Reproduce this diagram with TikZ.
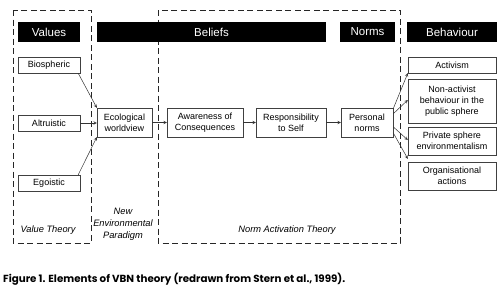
\documentclass[tikz,border=0pt]{standalone}
\usepackage{fontspec}
\setmainfont{Liberation Sans}
\newfontfamily\capfont{Poppins}
\usetikzlibrary{calc}

\begin{document}
\begin{tikzpicture}[x=1pt,y=-1pt,
  box/.style={draw=black!75,fill=white,align=center,inner sep=0pt,
    font=\fontsize{9}{11}\selectfont},
  bar/.style={fill=black,text=white,inner sep=0pt,minimum height=20pt,
    font=\fontsize{11.5}{13}\selectfont},
  frame/.style={dash pattern=on 6pt off 3.5pt,line width=0.9pt,black!85},
  note/.style={align=center,font=\fontsize{9.3}{12}\selectfont\itshape},
  arr/.style={-stealth,black!80,line width=0.5pt}]
\useasboundingbox (0,0) rectangle (504,290);
% dashed frames
\draw[frame] (13,10) rectangle (91,243);
\draw[frame] (158,10) rectangle (400,243);
% headings
\node[bar,minimum width=62pt] (values) at (49,32) {Values};
\node[bar,minimum width=229pt] (beliefs) at (211.5,32) {Beliefs};
\node[bar,minimum width=55pt] (norms) at (367.5,32) {Norms};
\node[bar,minimum width=90pt] (behaviour) at (452,32) {Behaviour};
% values
\node[box,minimum width=62pt,minimum height=16pt] (bio) at (49,65) {Biospheric};
\node[box,minimum width=62pt,minimum height=16pt] (alt) at (49,123) {Altruistic};
\node[box,minimum width=62pt,minimum height=16pt] (ego) at (49,183) {Egoistic};
% chain
\node[box,minimum width=55pt,minimum height=29pt] (eco) at (124.5,122.5) {Ecological\\worldview};
\node[box,minimum width=76pt,minimum height=29pt] (aware) at (205,122.5) {Awareness of\\Consequences};
\node[box,minimum width=70pt,minimum height=29pt] (resp) at (291,122.5) {Responsibility\\to Self};
\node[box,minimum width=52pt,minimum height=29pt] (pn) at (367,122.5) {Personal\\norms};
% behaviour
\node[box,minimum width=88pt,minimum height=16pt] (act) at (452,65) {Activism};
\node[box,minimum width=88pt,minimum height=44pt] (nonact) at (452,101) {Non-activist\\behaviour in the\\public sphere};
\node[box,minimum width=88pt,minimum height=28pt] (priv) at (452,141) {Private sphere\\environmentalism};
\node[box,minimum width=88pt,minimum height=28pt] (org) at (452,176) {Organisational\\actions};
% theory labels
\node[note] (vt) at (48,230) {Value Theory};
\node[note] (nep) at (123,224) {New\\Environmental\\Paradigm};
\node[note] (nat) at (287,230) {Norm Activation Theory};
% arrows
\draw[arr] ($(bio.south east)+(-2,0)$) -- (eco.north west);
\draw[arr] (alt.east) -- (alt.east -| eco.west);
\draw[arr] ($(ego.north east)+(-2,0)$) -- (eco.south west);
\draw[arr] (eco.east) -- (aware.west);
\draw[arr] (aware.east) -- (resp.west);
\draw[arr] (resp.east) -- (pn.west);
\draw[arr] ($(pn.north east)+(0,1)$) -- (act.south west);
\draw[arr] ($(pn.north east)+(0,6)$) -- ($(nonact.west)+(0,-1)$);
\draw[arr] ($(pn.north east)+(0,19)$) -- ($(priv.west)+(0,-1)$);
\draw[arr] ($(pn.north east)+(0,25)$) -- ($(org.north west)+(0,-3)$);
% caption
\node[anchor=west,inner sep=0pt,font=\capfont\bfseries\fontsize{10.3}{12}\selectfont] (cap) at (3,279)
  {Figure 1. Elements of VBN theory (redrawn from Stern et al., 1999).};
\end{tikzpicture}
\end{document}
